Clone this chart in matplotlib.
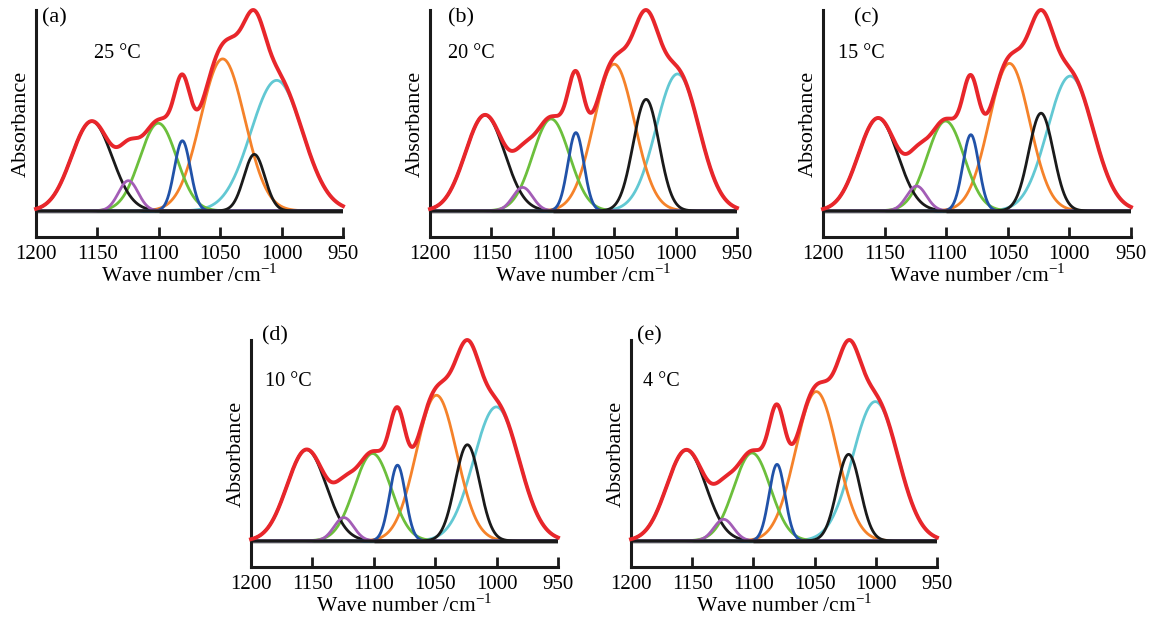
import numpy as np
import matplotlib
matplotlib.use("Agg")
import matplotlib.pyplot as plt

plt.rcParams["font.family"] = ["Liberation Serif", "DejaVu Serif"]
plt.rcParams["mathtext.fontset"] = "custom"
plt.rcParams["mathtext.rm"] = "Liberation Serif"

# peak order: black1, purple, green, blue, orange, black2, cyan
panel_labels = ["(a)", "(b)", "(c)", "(d)", "(e)"]
temps = ["25 °C", "20 °C", "15 °C", "10 °C", "4 °C"]

centers_a = [1154.6, 1124.8, 1100.4, 1080.8, 1048.0, 1022.2, 1004.0]
heights_a = [0.46, 0.155, 0.45, 0.36, 0.78, 0.29, 0.67]
sigmas_a = [16.5, 8.0, 15.0, 6.5, 18.0, 8.5, 21.0]

centers_b = [1155.2, 1124.5, 1101.4, 1081.2, 1050.0, 1024.0, 998.4]
heights_b = [0.49, 0.12, 0.47, 0.40, 0.75, 0.57, 0.70]
sigmas_b = [16.0, 8.0, 15.0, 6.5, 16.5, 10.5, 17.5]

centers_c = [1155.3, 1124.0, 1100.5, 1080.0, 1048.7, 1023.0, 999.3]
heights_c = [0.475, 0.127, 0.46, 0.39, 0.755, 0.50, 0.69]
sigmas_c = [16.0, 8.0, 15.0, 6.5, 16.5, 10.0, 18.5]

centers_d = [1154.7, 1124.4, 1101.0, 1080.7, 1049.0, 1023.8, 1000.2]
heights_d = [0.47, 0.12, 0.45, 0.39, 0.75, 0.495, 0.69]
sigmas_d = [16.0, 8.0, 15.0, 6.5, 16.5, 10.0, 18.5]

centers_e = [1154.8, 1124.3, 1101.1, 1080.7, 1048.6, 1022.2, 1000.4]
heights_e = [0.455, 0.108, 0.44, 0.383, 0.747, 0.433, 0.697]
sigmas_e = [16.0, 8.0, 15.0, 6.5, 17.0, 9.5, 18.5]

peak_colors = ["#1a1a1a", "#a35db6", "#6cbf3c", "#2152a8", "#f5822a", "#1a1a1a", "#62c8d3"]
draw_order = [6, 4, 2, 0, 3, 1, 5]
sum_color = "#e8262b"

xticks = [1200, 1150, 1100, 1050, 1000, 950]
wn = np.linspace(1200, 950, 1001)

# axes boxes in pixels: left, top, right, bottom (of spines)
W, H = 1155, 620
boxes = [
    (36, 10, 343, 237),
    (430, 10, 737, 237),
    (823, 10, 1131, 237),
    (251, 340, 558, 567),
    (631, 340, 937, 567),
]
label_pos = [(0.02, 0.965), (0.06, 0.965), (0.10, 0.965), (0.035, 1.02), (0.02, 1.02)]
temp_pos = [(0.19, 0.81), (0.06, 0.81), (0.05, 0.81), (0.045, 0.815), (0.04, 0.815)]


def gauss(x, c, h, s):
    return h * np.exp(-((x - c) ** 2) / (2 * s**2))


def draw_panel(ax, centers, heights, sigmas, label, temp, lpos, tpos):
    comps = [gauss(wn, c, h, s) for c, h, s in zip(centers, heights, sigmas)]
    total = np.sum(comps, axis=0)
    ax.hlines(0, 1200, 950, color="#1a1a1a", lw=2.5, zorder=1)
    for i in draw_order:
        ax.plot(wn, comps[i], color=peak_colors[i], lw=2.0, zorder=2)
    ax.hlines(0, 1100, 950, color="#1a1a1a", lw=2.5, zorder=3)
    ax.plot(wn, total, color=sum_color, lw=2.8, zorder=4, clip_on=False)

    top = total.max()
    ax.set_xlim(1200, 950)
    ax.set_ylim(-0.13 * top, 1.0 * top)
    ax.set_xticks(xticks)
    ax.set_yticks([])
    for side in ["top", "right"]:
        ax.spines[side].set_visible(False)
    for side in ["left", "bottom"]:
        ax.spines[side].set_linewidth(2.2)
        ax.spines[side].set_color("#1a1a1a")
    ax.tick_params(axis="x", direction="in", length=7, width=2, pad=6,
                   labelsize=15, color="#1a1a1a")
    ax.set_xlabel("Wave number /cm$^{-1}$", fontsize=15.5, labelpad=0)
    ax.set_ylabel("Absorbance", fontsize=16, labelpad=4)
    ax.text(lpos[0], lpos[1], label, transform=ax.transAxes, fontsize=16,
            ha="left", va="center")
    ax.text(tpos[0], tpos[1], temp, transform=ax.transAxes, fontsize=14.5,
            ha="left", va="center")


fig = plt.figure(figsize=(W / 100, H / 100), dpi=100)
data = [
    (centers_a, heights_a, sigmas_a),
    (centers_b, heights_b, sigmas_b),
    (centers_c, heights_c, sigmas_c),
    (centers_d, heights_d, sigmas_d),
    (centers_e, heights_e, sigmas_e),
]
for k, (box, (c, h, s)) in enumerate(zip(boxes, data)):
    l, t, r, b = box
    ax = fig.add_axes([l / W, 1 - b / H, (r - l) / W, (b - t) / H])
    draw_panel(ax, c, h, s, panel_labels[k], temps[k], label_pos[k], temp_pos[k])

fig.savefig("out.png", dpi=100)
